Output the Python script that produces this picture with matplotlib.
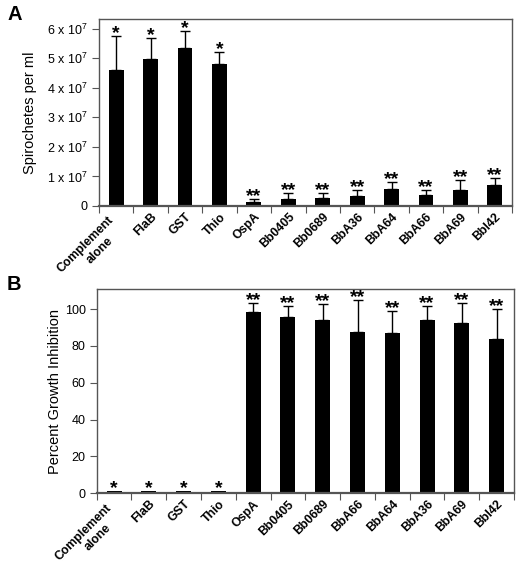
import matplotlib
matplotlib.use("Agg")
import matplotlib.pyplot as plt
import numpy as np
from matplotlib.ticker import FuncFormatter

plt.rcParams['font.family'] = ['Liberation Sans', 'DejaVu Sans']
plt.rcParams['mathtext.fontset'] = 'custom'
plt.rcParams['mathtext.rm'] = 'Liberation Sans'
plt.rcParams['mathtext.it'] = 'Liberation Sans'

# Panel A data (spirochetes per ml, units of 1e7)
cats_a = ["Complement\nalone", "FlaB", "GST", "Thio", "OspA", "Bb0405", "Bb0689",
          "BbA36", "BbA64", "BbA66", "BbA69", "BbI42"]
vals_a = [4.59, 4.96, 5.36, 4.82, 0.125, 0.24, 0.27, 0.33, 0.59, 0.36, 0.55, 0.71]
errs_a = [1.16, 0.74, 0.55, 0.38, 0.12, 0.19, 0.16, 0.22, 0.23, 0.19, 0.32, 0.25]
stars_a = ["*", "*", "*", "*", "**", "**", "**", "**", "**", "**", "**", "**"]

# Panel B data (percent growth inhibition)
cats_b = ["Complement\nalone", "FlaB", "GST", "Thio", "OspA", "Bb0405", "Bb0689",
          "BbA66", "BbA64", "BbA36", "BbA69", "BbI42"]
vals_b = [1.0, 1.4, 1.0, 1.3, 98.5, 95.8, 93.9, 87.7, 87.1, 93.9, 92.4, 83.6]
errs_b = [0, 0, 0, 0, 4.9, 6.0, 8.8, 17.0, 11.6, 7.9, 10.7, 16.2]
stars_b = ["*", "*", "*", "*", "**", "**", "**", "**", "**", "**", "**", "**"]

fig = plt.figure(figsize=(5.16, 5.62), dpi=100)
axA = fig.add_axes([99/516, 1-206/562, (512-99)/516, (206-19)/562])
axB = fig.add_axes([96.7/516, 1-493.3/562, (514-96.7)/516, (493.3-289.3)/562])

frame_col = '#555555'
LABEL_FS = 8.8
PAD_PT = 3.5

def style(ax, cats, vals, errs, stars, ylim, yticks, fmt):
    x = np.arange(len(cats))
    ax.bar(x, vals, width=0.43, color='black', zorder=2)
    for xi, v, e in zip(x, vals, errs):
        if e > 0:
            ax.errorbar(xi, v, yerr=[[0], [e]], fmt='none', ecolor='black',
                        elinewidth=1.0, capsize=3.6, capthick=1.0, zorder=3)
    for xi, v, e, s in zip(x, vals, errs, stars):
        ax.annotate(s, xy=(xi, v + e), xytext=(0, -1.5), textcoords='offset points',
                    ha='center', va='baseline', fontsize=14, fontweight='bold',
                    color='black')
    ax.set_xlim(-0.5, len(cats) - 0.5)
    ax.set_ylim(*ylim)
    ax.set_yticks(yticks)
    ax.yaxis.set_major_formatter(FuncFormatter(fmt))
    ax.set_xticks(np.arange(len(cats) + 1) - 0.5)
    ax.set_xticklabels([])
    # category labels: multi-line labels drawn line by line
    trans = ax.get_xaxis_transform()
    for xi, c in zip(x, cats):
        lines = c.split("\n")
        dx0, dy0 = (-6.0, -2.6) if len(lines) > 1 else (0.0, 0.0)
        for k, line in enumerate(lines):
            ax.annotate(line, xy=(xi, 0), xycoords=trans,
                        xytext=(dx0 - 0.7 * k, dy0 - PAD_PT - 14.4 * k),
                        textcoords='offset points',
                        rotation=45, ha='right', va='top', rotation_mode='anchor',
                        fontsize=LABEL_FS, fontweight='bold', annotation_clip=False)
    ax.tick_params(axis='x', which='major', length=5, direction='out', color=frame_col)
    ax.tick_params(axis='y', length=5, direction='out', color=frame_col, labelsize=9, pad=3)
    for sp in ax.spines.values():
        sp.set_color(frame_col)
        sp.set_linewidth(1.0)
    ax.spines['bottom'].set_linewidth(1.6)

style(axA, cats_a, vals_a, errs_a, stars_a, (0, 6.33), [0, 1, 2, 3, 4, 5, 6],
      lambda v, p: "0" if v == 0 else r"%d x 10$^{7}$" % int(round(v)))
axA.set_ylabel("Spirochetes per ml", fontsize=10.5)
axA.yaxis.set_label_coords((37 - 99) / 413, 0.5)

style(axB, cats_b, vals_b, errs_b, stars_b, (0, 110.7), [0, 20, 40, 60, 80, 100],
      lambda v, p: "%d" % int(round(v)))
axB.set_ylabel("Percent Growth Inhibition", fontsize=10.5)
axB.yaxis.set_label_coords((62 - 96.7) / 417.3, 0.5)

fig.text(15/516, 1-15/562, "A", fontsize=14.5, fontweight='bold', va='center', ha='center')
fig.text(14/516, 1-284/562, "B", fontsize=14.5, fontweight='bold', va='center', ha='center')

fig.savefig("out.png", dpi=100)
